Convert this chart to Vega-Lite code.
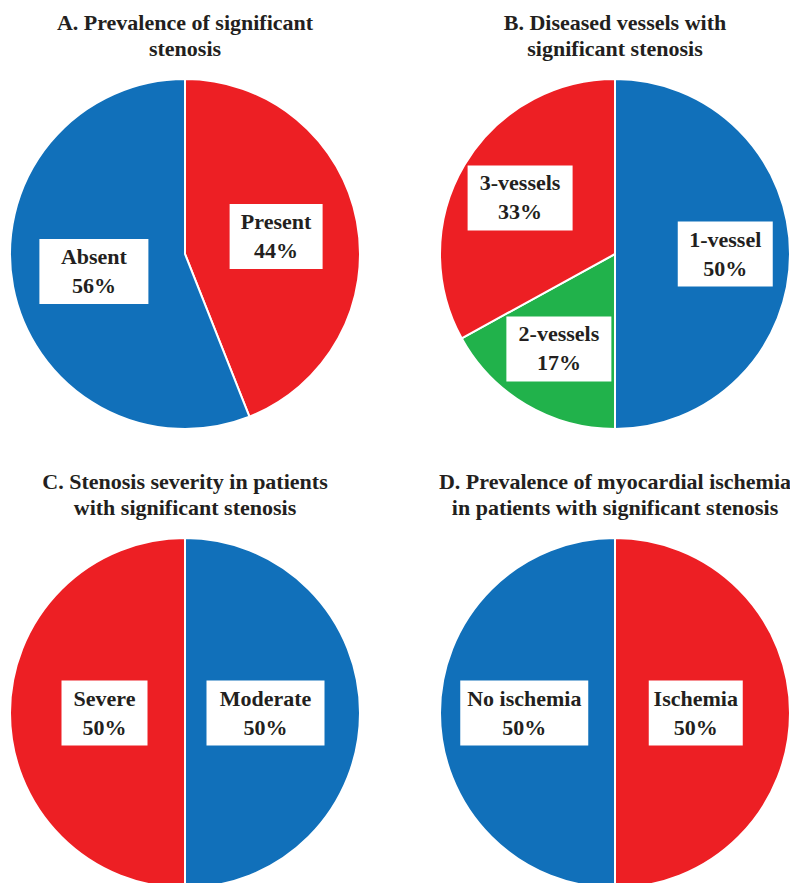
{
  "$schema": "https://vega.github.io/schema/vega-lite/v6.json",
  "background": "white",
  "padding": {"left": 6, "top": 12, "right": 0, "bottom": 0},
  "config": {
    "view": {"stroke": null},
    "title": {"font": "Liberation Serif", "fontSize": 22, "fontWeight": "bold", "color": "#231f20", "lineHeight": 26, "anchor": "middle", "offset": 14},
    "text": {"font": "Liberation Serif", "fontSize": 22, "fontWeight": "bold", "color": "#231f20", "lineHeight": 29, "align": "center", "baseline": "middle", "dy": -14.5}
  },
  "spacing": 38,
  "vconcat": [
    {
      "spacing": 80,
      "bounds": "flush",
      "hconcat": [
        {
          "width": 350, "height": 350,
          "title": {"text": ["A. Prevalence of significant", "stenosis"]},
          "data": {"values": [
            {"category": "Present", "value": 44, "order": 1},
            {"category": "Absent", "value": 56, "order": 2}
          ]},
          "transform": [
            {"joinaggregate": [{"op": "sum", "field": "value", "as": "total"}]},
            {"window": [{"op": "sum", "field": "value", "as": "cum"}], "sort": [{"field": "order"}], "frame": [null, 0]},
            {"calculate": "2*PI*(datum.cum - datum.value/2)/datum.total", "as": "mid"},
            {"calculate": "0.53*sin(datum.mid)", "as": "lx"},
            {"calculate": "0.53*cos(datum.mid)", "as": "ly"},
            {"calculate": "[datum.category, datum.value + '%']", "as": "txt"}
          ],
          "layer": [
            {"mark": {"type": "arc", "stroke": "white", "strokeWidth": 2},
             "encoding": {
               "theta": {"field": "value", "type": "quantitative", "stack": true},
               "order": {"field": "order", "type": "quantitative"},
               "color": {"field": "category", "type": "nominal", "legend": null,
                 "scale": {"domain": ["Present","Absent","1-vessel","2-vessels","3-vessels","Moderate","Severe","Ischemia","No ischemia"],
                           "range": ["#ed1f24","#1170ba","#1170ba","#21b24b","#ed1f24","#1170ba","#ed1f24","#ed1f24","#1170ba"]}}
             }},
            {"mark": {"type": "point", "size": 4, "filled": true, "fill": "white", "opacity": 1, "strokeWidth": 0},
             "encoding": {
               "x": {"field": "lx", "type": "quantitative", "scale": {"domain": [-1, 1]}, "axis": null},
               "y": {"field": "ly", "type": "quantitative", "scale": {"domain": [-1, 1]}, "axis": null},
               "shape": {"field": "category", "type": "nominal", "legend": null,
                 "scale": {"domain": ["Present","Absent","1-vessel","2-vessels","3-vessels","Moderate","Severe","Ischemia","No ischemia"],
                           "range": ["M-46.5,-32.5H46.5V32.5H-46.5Z","M-54.5,-32.5H54.5V32.5H-54.5Z","M-47.5,-32.5H47.5V32.5H-47.5Z","M-52.5,-32.5H52.5V32.5H-52.5Z","M-52.5,-32.5H52.5V32.5H-52.5Z","M-59,-32.5H59V32.5H-59Z","M-43,-32.5H43V32.5H-43Z","M-47,-32.5H47V32.5H-47Z","M-64,-32.5H64V32.5H-64Z"]}}
             }},
            {"mark": {"type": "text"},
             "encoding": {
               "x": {"field": "lx", "type": "quantitative", "scale": {"domain": [-1, 1]}, "axis": null},
               "y": {"field": "ly", "type": "quantitative", "scale": {"domain": [-1, 1]}, "axis": null},
               "text": {"field": "txt"}
             }}
          ]
        },
        {
          "width": 350, "height": 350,
          "title": {"text": ["B. Diseased vessels with", "significant stenosis"]},
          "data": {"values": [
            {"category": "1-vessel", "value": 50, "order": 1},
            {"category": "2-vessels", "value": 17, "order": 2},
            {"category": "3-vessels", "value": 33, "order": 3}
          ]},
          "transform": [
            {"joinaggregate": [{"op": "sum", "field": "value", "as": "total"}]},
            {"window": [{"op": "sum", "field": "value", "as": "cum"}], "sort": [{"field": "order"}], "frame": [null, 0]},
            {"calculate": "2*PI*(datum.cum - datum.value/2)/datum.total", "as": "mid"},
            {"calculate": "0.63*sin(datum.mid)", "as": "lx"},
            {"calculate": "0.63*cos(datum.mid)", "as": "ly"},
            {"calculate": "[datum.category, datum.value + '%']", "as": "txt"}
          ],
          "layer": [
            {"mark": {"type": "arc", "stroke": "white", "strokeWidth": 2},
             "encoding": {
               "theta": {"field": "value", "type": "quantitative", "stack": true},
               "order": {"field": "order", "type": "quantitative"},
               "color": {"field": "category", "type": "nominal", "legend": null,
                 "scale": {"domain": ["Present","Absent","1-vessel","2-vessels","3-vessels","Moderate","Severe","Ischemia","No ischemia"],
                           "range": ["#ed1f24","#1170ba","#1170ba","#21b24b","#ed1f24","#1170ba","#ed1f24","#ed1f24","#1170ba"]}}
             }},
            {"mark": {"type": "point", "size": 4, "filled": true, "fill": "white", "opacity": 1, "strokeWidth": 0},
             "encoding": {
               "x": {"field": "lx", "type": "quantitative", "scale": {"domain": [-1, 1]}, "axis": null},
               "y": {"field": "ly", "type": "quantitative", "scale": {"domain": [-1, 1]}, "axis": null},
               "shape": {"field": "category", "type": "nominal", "legend": null,
                 "scale": {"domain": ["Present","Absent","1-vessel","2-vessels","3-vessels","Moderate","Severe","Ischemia","No ischemia"],
                           "range": ["M-46.5,-32.5H46.5V32.5H-46.5Z","M-54.5,-32.5H54.5V32.5H-54.5Z","M-47.5,-32.5H47.5V32.5H-47.5Z","M-52.5,-32.5H52.5V32.5H-52.5Z","M-52.5,-32.5H52.5V32.5H-52.5Z","M-59,-32.5H59V32.5H-59Z","M-43,-32.5H43V32.5H-43Z","M-47,-32.5H47V32.5H-47Z","M-64,-32.5H64V32.5H-64Z"]}}
             }},
            {"mark": {"type": "text"},
             "encoding": {
               "x": {"field": "lx", "type": "quantitative", "scale": {"domain": [-1, 1]}, "axis": null},
               "y": {"field": "ly", "type": "quantitative", "scale": {"domain": [-1, 1]}, "axis": null},
               "text": {"field": "txt"}
             }}
          ]
        }
      ]
    },
    {
      "spacing": 80,
      "bounds": "flush",
      "hconcat": [
        {
          "width": 350, "height": 350,
          "title": {"text": ["C. Stenosis severity in patients", "with significant stenosis"]},
          "data": {"values": [
            {"category": "Moderate", "value": 50, "order": 1},
            {"category": "Severe", "value": 50, "order": 2}
          ]},
          "transform": [
            {"joinaggregate": [{"op": "sum", "field": "value", "as": "total"}]},
            {"window": [{"op": "sum", "field": "value", "as": "cum"}], "sort": [{"field": "order"}], "frame": [null, 0]},
            {"calculate": "2*PI*(datum.cum - datum.value/2)/datum.total", "as": "mid"},
            {"calculate": "0.46*sin(datum.mid)", "as": "lx"},
            {"calculate": "0.46*cos(datum.mid)", "as": "ly"},
            {"calculate": "[datum.category, datum.value + '%']", "as": "txt"}
          ],
          "layer": [
            {"mark": {"type": "arc", "stroke": "white", "strokeWidth": 2},
             "encoding": {
               "theta": {"field": "value", "type": "quantitative", "stack": true},
               "order": {"field": "order", "type": "quantitative"},
               "color": {"field": "category", "type": "nominal", "legend": null,
                 "scale": {"domain": ["Present","Absent","1-vessel","2-vessels","3-vessels","Moderate","Severe","Ischemia","No ischemia"],
                           "range": ["#ed1f24","#1170ba","#1170ba","#21b24b","#ed1f24","#1170ba","#ed1f24","#ed1f24","#1170ba"]}}
             }},
            {"mark": {"type": "point", "size": 4, "filled": true, "fill": "white", "opacity": 1, "strokeWidth": 0},
             "encoding": {
               "x": {"field": "lx", "type": "quantitative", "scale": {"domain": [-1, 1]}, "axis": null},
               "y": {"field": "ly", "type": "quantitative", "scale": {"domain": [-1, 1]}, "axis": null},
               "shape": {"field": "category", "type": "nominal", "legend": null,
                 "scale": {"domain": ["Present","Absent","1-vessel","2-vessels","3-vessels","Moderate","Severe","Ischemia","No ischemia"],
                           "range": ["M-46.5,-32.5H46.5V32.5H-46.5Z","M-54.5,-32.5H54.5V32.5H-54.5Z","M-47.5,-32.5H47.5V32.5H-47.5Z","M-52.5,-32.5H52.5V32.5H-52.5Z","M-52.5,-32.5H52.5V32.5H-52.5Z","M-59,-32.5H59V32.5H-59Z","M-43,-32.5H43V32.5H-43Z","M-47,-32.5H47V32.5H-47Z","M-64,-32.5H64V32.5H-64Z"]}}
             }},
            {"mark": {"type": "text"},
             "encoding": {
               "x": {"field": "lx", "type": "quantitative", "scale": {"domain": [-1, 1]}, "axis": null},
               "y": {"field": "ly", "type": "quantitative", "scale": {"domain": [-1, 1]}, "axis": null},
               "text": {"field": "txt"}
             }}
          ]
        },
        {
          "width": 350, "height": 350,
          "title": {"text": ["D. Prevalence of myocardial ischemia", "in patients with significant stenosis"]},
          "data": {"values": [
            {"category": "Ischemia", "value": 50, "order": 1},
            {"category": "No ischemia", "value": 50, "order": 2}
          ]},
          "transform": [
            {"joinaggregate": [{"op": "sum", "field": "value", "as": "total"}]},
            {"window": [{"op": "sum", "field": "value", "as": "cum"}], "sort": [{"field": "order"}], "frame": [null, 0]},
            {"calculate": "2*PI*(datum.cum - datum.value/2)/datum.total", "as": "mid"},
            {"calculate": "0.49*sin(datum.mid)", "as": "lx"},
            {"calculate": "0.49*cos(datum.mid)", "as": "ly"},
            {"calculate": "[datum.category, datum.value + '%']", "as": "txt"}
          ],
          "layer": [
            {"mark": {"type": "arc", "stroke": "white", "strokeWidth": 2},
             "encoding": {
               "theta": {"field": "value", "type": "quantitative", "stack": true},
               "order": {"field": "order", "type": "quantitative"},
               "color": {"field": "category", "type": "nominal", "legend": null,
                 "scale": {"domain": ["Present","Absent","1-vessel","2-vessels","3-vessels","Moderate","Severe","Ischemia","No ischemia"],
                           "range": ["#ed1f24","#1170ba","#1170ba","#21b24b","#ed1f24","#1170ba","#ed1f24","#ed1f24","#1170ba"]}}
             }},
            {"mark": {"type": "point", "size": 4, "filled": true, "fill": "white", "opacity": 1, "strokeWidth": 0, "xOffset": -5},
             "encoding": {
               "x": {"field": "lx", "type": "quantitative", "scale": {"domain": [-1, 1]}, "axis": null},
               "y": {"field": "ly", "type": "quantitative", "scale": {"domain": [-1, 1]}, "axis": null},
               "shape": {"field": "category", "type": "nominal", "legend": null,
                 "scale": {"domain": ["Present","Absent","1-vessel","2-vessels","3-vessels","Moderate","Severe","Ischemia","No ischemia"],
                           "range": ["M-46.5,-32.5H46.5V32.5H-46.5Z","M-54.5,-32.5H54.5V32.5H-54.5Z","M-47.5,-32.5H47.5V32.5H-47.5Z","M-52.5,-32.5H52.5V32.5H-52.5Z","M-52.5,-32.5H52.5V32.5H-52.5Z","M-59,-32.5H59V32.5H-59Z","M-43,-32.5H43V32.5H-43Z","M-47,-32.5H47V32.5H-47Z","M-64,-32.5H64V32.5H-64Z"]}}
             }},
            {"mark": {"type": "text", "xOffset": -5},
             "encoding": {
               "x": {"field": "lx", "type": "quantitative", "scale": {"domain": [-1, 1]}, "axis": null},
               "y": {"field": "ly", "type": "quantitative", "scale": {"domain": [-1, 1]}, "axis": null},
               "text": {"field": "txt"}
             }}
          ]
        }
      ]
    }
  ]
}
